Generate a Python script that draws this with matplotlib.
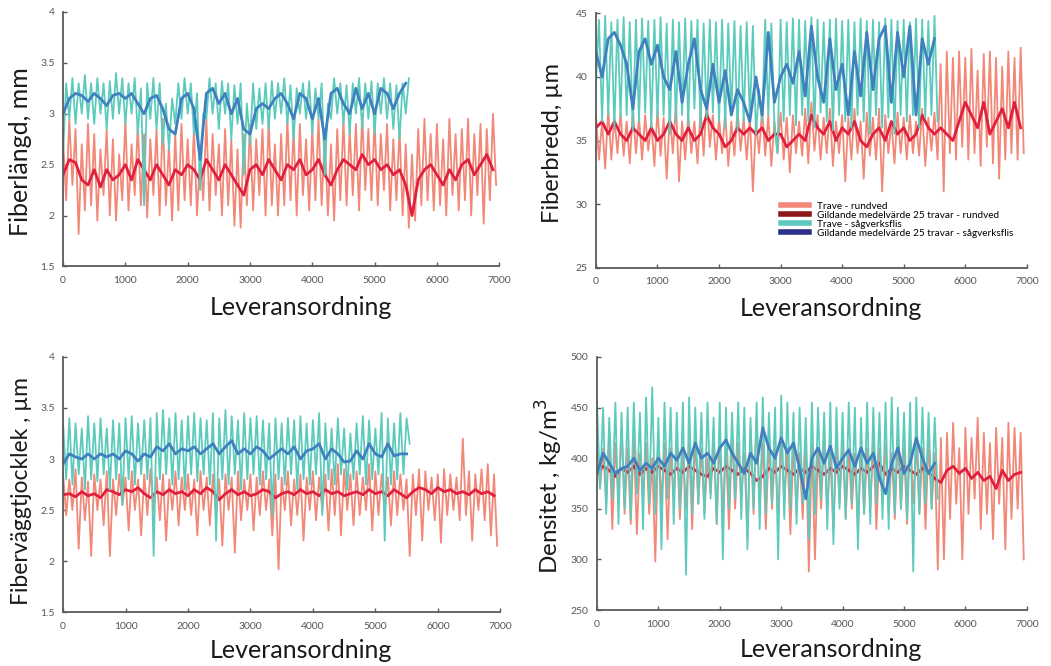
import numpy as np
import matplotlib
matplotlib.use("Agg")
import matplotlib.pyplot as plt
from matplotlib.lines import Line2D

# ---------------- data ----------------
# delivery order positions (every 50th / 100th delivery)
lev_rund_raw = np.arange(0, 7000, 50)      # 140 points, rundved raw
lev_sag_raw = np.arange(0, 5600, 50)       # 112 points, sågverksflis raw
lev_rund_ma = np.arange(0, 7000, 100)      # 70 points
lev_sag_ma = np.arange(0, 5600, 100)       # 56 points

# ---- Fiberlängd, mm ----
langd_rund_raw = [
    2.75, 2.15, 2.95, 2.30, 2.85, 1.82, 2.70, 2.05, 2.90, 2.10,
    2.80, 1.95, 2.65, 2.20, 2.85, 2.00, 2.75, 1.95, 2.60, 2.15,
    2.95, 2.05, 2.70, 2.20, 2.90, 2.10, 2.80, 1.98, 2.75, 2.20,
    2.85, 2.00, 2.95, 2.10, 2.70, 1.95, 2.80, 2.05, 2.90, 2.15,
    2.75, 2.10, 2.85, 2.00, 2.60, 2.15, 2.95, 2.05, 2.80, 2.20,
    2.70, 2.00, 2.85, 2.10, 2.75, 1.90, 2.65, 1.88, 2.80, 2.10,
    2.90, 2.05, 2.75, 2.20, 2.85, 2.00, 2.95, 2.10, 2.70, 2.00,
    2.80, 2.10, 2.95, 2.15, 2.85, 2.00, 2.90, 2.20, 2.75, 2.05,
    2.85, 2.15, 2.95, 2.10, 2.80, 2.00, 2.70, 1.95, 2.85, 2.15,
    2.95, 2.10, 2.85, 2.20, 2.90, 2.05, 3.00, 2.25, 2.85, 2.15,
    2.95, 2.10, 2.80, 2.25, 2.90, 2.05, 2.75, 2.15, 2.85, 2.00,
    2.70, 1.88, 2.60, 1.95, 2.85, 2.10, 2.95, 2.15, 2.80, 2.05,
    2.90, 2.10, 2.75, 2.00, 2.95, 2.20, 2.80, 2.05, 2.85, 2.15,
    2.95, 2.00, 2.80, 2.20, 2.90, 1.92, 2.85, 2.15, 3.00, 2.30]
langd_rund_ma = [
    2.40, 2.55, 2.52, 2.35, 2.30, 2.45, 2.28, 2.45, 2.35, 2.40,
    2.50, 2.35, 2.55, 2.45, 2.35, 2.50, 2.40, 2.30, 2.45, 2.40,
    2.50, 2.45, 2.35, 2.55, 2.45, 2.35, 2.50, 2.40, 2.30, 2.20,
    2.45, 2.50, 2.40, 2.55, 2.45, 2.35, 2.50, 2.45, 2.55, 2.40,
    2.45, 2.55, 2.40, 2.30, 2.45, 2.55, 2.50, 2.45, 2.60, 2.50,
    2.55, 2.45, 2.50, 2.40, 2.45, 2.30, 2.00, 2.35, 2.45, 2.50,
    2.40, 2.30, 2.45, 2.35, 2.50, 2.55, 2.40, 2.50, 2.60, 2.45]
langd_sag_raw = [
    2.60, 3.30, 2.95, 3.35, 2.90, 3.30, 3.00, 3.38, 2.95, 3.30,
    2.90, 3.35, 3.00, 3.30, 2.85, 3.32, 2.95, 3.40, 3.00, 3.35,
    2.90, 3.30, 3.00, 3.35, 2.80, 3.25, 2.10, 3.30, 2.95, 3.35,
    2.85, 3.30, 2.70, 3.10, 2.65, 3.15, 2.90, 3.30, 2.95, 3.35,
    3.00, 3.30, 2.80, 3.20, 2.25, 3.00, 2.95, 3.35, 3.00, 3.30,
    2.85, 3.32, 3.00, 3.30, 2.75, 3.28, 2.90, 3.30, 2.40, 3.10,
    2.70, 3.30, 2.85, 3.25, 2.90, 3.30, 2.85, 3.32, 2.95, 3.30,
    3.00, 3.35, 2.90, 3.28, 2.75, 3.25, 3.00, 3.30, 2.95, 3.32,
    2.80, 3.25, 2.95, 3.30, 2.40, 3.10, 2.95, 3.35, 3.00, 3.30,
    2.90, 3.28, 2.80, 3.30, 3.00, 3.35, 2.85, 3.30, 2.95, 3.32,
    2.80, 3.30, 3.00, 3.35, 2.95, 3.30, 2.85, 3.28, 2.75, 3.30,
    3.00, 3.35]
langd_sag_ma = [
    3.00, 3.15, 3.20, 3.18, 3.12, 3.20, 3.15, 3.08, 3.18, 3.20,
    3.15, 3.20, 3.10, 3.00, 3.15, 3.18, 3.05, 2.85, 2.80, 3.15,
    3.20, 3.05, 2.55, 3.20, 3.25, 3.10, 3.20, 3.00, 3.15, 2.85,
    2.80, 3.05, 3.10, 3.05, 3.15, 3.20, 3.10, 2.95, 3.20, 3.15,
    2.95, 3.15, 2.75, 3.20, 3.25, 3.10, 3.00, 3.25, 3.05, 3.20,
    3.00, 3.25, 3.20, 3.05, 3.20, 3.30]

# ---- Fiberbredd, µm ----
bredd_rund_raw = [
    37.0, 33.5, 36.5, 32.8, 37.5, 33.5, 36.8, 34.0, 37.2, 33.8,
    36.5, 33.2, 37.5, 34.0, 36.8, 33.5, 37.0, 34.2, 36.5, 33.0,
    37.5, 33.8, 36.8, 32.0, 37.2, 34.0, 38.0, 31.8, 36.5, 33.5,
    37.0, 34.0, 36.5, 33.2, 37.5, 33.8, 38.5, 34.5, 37.0, 33.5,
    36.8, 34.0, 37.2, 33.0, 36.5, 33.8, 37.5, 34.2, 36.8, 33.5,
    37.0, 31.0, 36.5, 34.0, 37.5, 33.8, 37.0, 33.0, 36.5, 34.0,
    37.2, 33.5, 36.8, 32.5, 37.0, 34.0, 36.5, 33.8, 37.5, 33.2,
    38.0, 34.2, 37.0, 33.5, 36.8, 34.0, 37.5, 33.0, 36.5, 34.0,
    37.0, 31.8, 36.8, 33.5, 37.5, 34.0, 36.5, 32.0, 37.2, 33.8,
    36.8, 33.5, 37.5, 31.0, 37.0, 34.0, 36.5, 33.2, 37.2, 34.0,
    36.8, 33.5, 37.0, 34.0, 36.5, 33.8, 37.5, 33.0, 36.8, 34.2,
    37.2, 33.5, 41.0, 31.0, 42.0, 34.0, 41.5, 33.5, 42.0, 34.5,
    41.5, 33.5, 42.2, 34.0, 40.5, 33.0, 41.8, 34.5, 42.0, 33.2,
    41.5, 32.0, 40.8, 33.5, 42.0, 34.0, 41.5, 33.5, 42.3, 34.0]
bredd_rund_ma = [
    36.0, 36.5, 35.5, 36.5, 35.5, 35.0, 36.0, 35.5, 35.0, 36.0,
    35.0, 35.5, 36.5, 35.5, 35.0, 36.0, 35.0, 35.5, 37.0, 36.0,
    35.5, 34.5, 35.0, 36.0, 35.5, 36.0, 35.5, 36.0, 35.0, 35.5,
    35.5, 34.5, 35.0, 35.5, 35.0, 37.0, 36.0, 35.5, 36.5, 35.0,
    36.0, 35.5, 36.5, 35.0, 34.5, 35.5, 36.0, 35.0, 36.5, 35.5,
    36.0, 35.0, 35.5, 37.0, 36.0, 35.5, 36.0, 35.5, 35.0, 36.5,
    38.0, 37.0, 36.0, 38.0, 35.5, 36.5, 37.5, 36.0, 38.0, 36.0]
bredd_sag_raw = [
    39.5, 44.5, 36.5, 44.8, 37.0, 44.3, 36.0, 44.5, 36.8, 44.7,
    37.0, 44.3, 35.8, 44.5, 36.5, 44.6, 37.2, 44.4, 36.0, 44.5,
    36.8, 44.7, 37.0, 44.2, 35.5, 44.5, 36.5, 44.3, 37.0, 44.6,
    36.2, 44.4, 37.5, 44.5, 36.0, 44.2, 36.8, 44.5, 37.2, 44.3,
    36.5, 44.5, 36.0, 44.2, 37.0, 44.4, 35.8, 44.0, 36.5, 44.3,
    36.8, 44.0, 35.5, 39.0, 36.5, 44.5, 37.0, 44.2, 36.0, 34.0,
    44.5, 36.5, 44.3, 37.0, 44.6, 36.2, 44.5, 37.0, 44.4, 36.5,
    44.7, 36.0, 44.5, 37.2, 44.3, 36.5, 44.5, 35.8, 44.6, 37.0,
    44.4, 36.5, 44.5, 36.0, 44.3, 37.0, 44.6, 36.5, 44.4, 35.5,
    44.5, 37.0, 44.3, 36.0, 44.6, 36.8, 44.5, 35.5, 44.4, 37.0,
    44.5, 36.5, 44.3, 37.0, 44.6, 36.0, 44.5, 36.8, 44.4, 37.0,
    44.8, 36.5]
bredd_sag_ma = [
    42.0, 40.0, 43.0, 43.5, 42.5, 41.0, 37.5, 42.0, 43.0, 41.0,
    42.5, 40.0, 39.0, 42.0, 38.0, 41.0, 43.0, 39.0, 37.5, 41.0,
    38.0, 40.5, 37.0, 39.0, 38.0, 36.5, 40.0, 37.0, 43.5, 38.0,
    40.0, 41.0, 39.5, 42.0, 38.5, 44.0, 40.0, 38.0, 43.0, 39.0,
    41.0, 37.0, 42.0, 38.5, 43.5, 39.0, 43.0, 44.0, 38.0, 43.5,
    40.0, 44.0, 37.0, 43.0, 41.0, 43.0]

# ---- Fiberväggtjocklek, µm ----
vagg_rund_raw = [
    2.85, 2.45, 2.80, 2.50, 2.90, 2.12, 2.82, 2.40, 2.78, 2.05,
    2.85, 2.50, 2.80, 2.35, 2.88, 2.05, 2.80, 2.45, 2.85, 2.55,
    2.82, 2.30, 2.88, 2.50, 2.80, 2.25, 2.85, 2.45, 2.90, 2.50,
    2.82, 2.40, 2.85, 2.20, 2.80, 2.50, 2.88, 2.35, 2.82, 2.50,
    2.85, 2.45, 2.80, 2.25, 2.88, 2.50, 2.82, 2.35, 2.85, 2.45,
    2.80, 2.15, 2.85, 2.50, 2.82, 2.08, 2.88, 2.40, 2.80, 2.50,
    2.85, 2.30, 2.82, 2.45, 2.88, 2.50, 2.80, 2.25, 2.85, 1.92,
    2.82, 2.50, 2.88, 2.35, 2.80, 2.45, 2.85, 2.20, 2.82, 2.50,
    2.88, 2.40, 2.82, 2.50, 2.85, 2.30, 2.90, 2.45, 2.95, 2.25,
    2.90, 2.50, 2.85, 2.35, 2.88, 2.45, 2.82, 2.50, 2.95, 2.30,
    2.88, 2.45, 2.85, 2.50, 2.82, 2.35, 2.88, 2.45, 2.85, 2.50,
    2.80, 2.05, 2.85, 2.45, 2.90, 2.20, 2.88, 2.50, 2.82, 2.40,
    2.85, 2.18, 2.90, 2.45, 2.85, 2.50, 2.82, 2.40, 3.20, 2.45,
    2.88, 2.20, 2.85, 2.50, 2.90, 2.40, 2.95, 2.25, 2.85, 2.15]
vagg_rund_ma = [
    2.65, 2.66, 2.63, 2.68, 2.64, 2.66, 2.62, 2.70, 2.68, 2.65,
    2.70, 2.68, 2.72, 2.66, 2.62, 2.68, 2.65, 2.70, 2.66, 2.68,
    2.64, 2.70, 2.66, 2.72, 2.68, 2.60, 2.66, 2.70, 2.65, 2.68,
    2.64, 2.66, 2.70, 2.68, 2.62, 2.66, 2.68, 2.65, 2.70, 2.66,
    2.68, 2.64, 2.70, 2.66, 2.68, 2.64, 2.66, 2.68, 2.65, 2.70,
    2.66, 2.68, 2.64, 2.70, 2.66, 2.62, 2.68, 2.72, 2.70, 2.66,
    2.72, 2.68, 2.70, 2.66, 2.68, 2.65, 2.70, 2.66, 2.68, 2.64]
vagg_sag_raw = [
    3.35, 2.80, 3.40, 2.75, 3.35, 2.85, 3.30, 2.70, 3.42, 2.80,
    3.35, 2.78, 3.40, 2.85, 3.30, 2.70, 3.38, 2.80, 3.35, 2.55,
    3.40, 2.80, 3.42, 2.75, 3.35, 2.85, 3.38, 2.80, 3.40, 2.05,
    3.45, 2.80, 3.48, 2.85, 3.40, 2.75, 3.45, 2.80, 3.38, 2.70,
    3.42, 2.85, 3.45, 2.78, 3.40, 2.85, 3.38, 2.75, 3.45, 2.20,
    3.40, 2.80, 3.48, 2.75, 3.42, 2.85, 3.38, 2.70, 3.45, 2.80,
    3.40, 2.85, 3.42, 2.75, 3.38, 2.80, 3.35, 2.45, 3.40, 2.80,
    3.35, 2.75, 3.40, 2.85, 3.38, 2.70, 3.42, 2.80, 3.35, 2.75,
    3.38, 2.85, 3.45, 2.45, 3.35, 2.80, 3.30, 2.75, 3.40, 2.85,
    3.30, 2.70, 3.25, 2.80, 3.35, 2.85, 3.42, 2.75, 3.38, 2.80,
    3.30, 2.85, 3.45, 2.20, 3.40, 2.75, 3.35, 2.80, 3.45, 2.85,
    3.40, 3.15]
vagg_sag_ma = [
    2.95, 3.05, 3.02, 3.00, 3.05, 3.00, 3.05, 3.02, 3.05, 3.00,
    3.08, 3.05, 2.98, 3.05, 3.02, 3.12, 3.08, 3.15, 3.05, 3.10,
    3.08, 3.12, 3.05, 3.10, 3.15, 3.05, 3.12, 3.18, 3.05, 3.10,
    3.05, 3.12, 3.08, 3.00, 3.05, 3.10, 3.05, 3.12, 3.00, 3.08,
    3.10, 3.15, 3.00, 3.10, 3.05, 2.97, 2.98, 3.08, 3.00, 3.15,
    3.05, 3.02, 3.15, 3.03, 3.05, 3.05]

# ---- Densitet, kg/m3 ----
dens_rund_raw = [
    420, 370, 410, 355, 425, 330, 415, 360, 430, 345,
    410, 335, 420, 325, 405, 365, 415, 345, 400, 298,
    425, 355, 415, 320, 410, 360, 420, 340, 405, 350,
    415, 330, 420, 355, 410, 345, 400, 365, 415, 335,
    420, 345, 410, 330, 425, 350, 415, 360, 405, 320,
    430, 345, 440, 355, 415, 330, 420, 350, 410, 340,
    420, 355, 410, 325, 415, 345, 405, 340, 420, 288,
    415, 300, 410, 350, 425, 345, 405, 330, 415, 355,
    420, 340, 410, 350, 405, 325, 415, 345, 410, 350,
    420, 330, 410, 355, 415, 345, 405, 340, 420, 350,
    410, 335, 425, 355, 415, 345, 410, 330, 420, 350,
    405, 290, 420, 300, 425, 340, 435, 355, 410, 300,
    430, 345, 420, 360, 440, 330, 425, 345, 415, 320,
    430, 355, 420, 310, 435, 340, 430, 350, 425, 300]
dens_rund_ma = [
    385, 392, 388, 382, 390, 386, 392, 384, 390, 386,
    392, 388, 384, 390, 386, 392, 388, 384, 382, 390,
    386, 392, 388, 384, 390, 385, 378, 382, 390, 386,
    392, 388, 384, 390, 386, 392, 388, 384, 390, 386,
    392, 388, 384, 390, 386, 392, 395, 384, 390, 386,
    392, 388, 384, 390, 386, 380, 376, 388, 392, 385,
    390, 380, 386, 378, 382, 370, 388, 378, 384, 386]
dens_sag_raw = [
    455, 370, 450, 345, 440, 360, 455, 335, 445, 350,
    450, 340, 455, 365, 445, 330, 460, 355, 470, 345,
    440, 310, 455, 360, 450, 335, 445, 350, 455, 285,
    460, 345, 450, 355, 445, 340, 455, 360, 440, 335,
    455, 300, 450, 350, 445, 360, 455, 340, 450, 310,
    440, 350, 455, 330, 460, 345, 445, 355, 450, 300,
    462, 340, 455, 350, 445, 335, 450, 355, 440, 320,
    455, 345, 450, 360, 445, 330, 455, 315, 450, 350,
    445, 340, 455, 355, 450, 310, 440, 345, 455, 335,
    450, 355, 445, 340, 455, 330, 460, 345, 450, 350,
    445, 340, 455, 288, 460, 345, 450, 355, 445, 350,
    440, 360]
dens_sag_ma = [
    385, 405, 395, 385, 390, 392, 400, 388, 395, 390,
    400, 392, 405, 398, 410, 395, 415, 400, 405, 395,
    410, 418, 405, 395, 385, 405, 395, 430, 410, 400,
    420, 405, 415, 390, 360, 400, 410, 395, 412, 390,
    400, 408, 392, 410, 395, 405, 380, 365, 395, 410,
    385, 395, 420, 400, 385, 395]

panels = [
    ("Fiberlängd, mm", (1.5, 4.0), [1.5, 2, 2.5, 3, 3.5, 4], ["1.5", "2", "2.5", "3", "3.5", "4"],
     langd_rund_raw, langd_rund_ma, langd_sag_raw, langd_sag_ma),
    ("Fiberbredd, µm", (25, 45), [25, 30, 35, 40, 45], ["25", "30", "35", "40", "45"],
     bredd_rund_raw, bredd_rund_ma, bredd_sag_raw, bredd_sag_ma),
    ("Fiberväggtjocklek , µm", (1.5, 4.0), [1.5, 2, 2.5, 3, 3.5, 4], ["1.5", "2", "2.5", "3", "3.5", "4"],
     vagg_rund_raw, vagg_rund_ma, vagg_sag_raw, vagg_sag_ma),
    ("Densitet , kg/m$^3$", (250, 500), [250, 300, 350, 400, 450, 500], ["250", "300", "350", "400", "450", "500"],
     dens_rund_raw, dens_rund_ma, dens_sag_raw, dens_sag_ma),
]
x_ticks = [0, 1000, 2000, 3000, 4000, 5000, 6000, 7000]
x_label = "Leveransordning"
legend_labels = ["Trave - rundved", "Gildande medelvärde 25 travar - rundved",
                 "Trave - sågverksflis", "Gildande medelvärde 25 travar - sågverksflis"]

# ---------------- styling ----------------
c_rund_raw = "#f18878"
c_rund_ma = "#e11f3e"
c_sag_raw = "#5ccbbd"
c_sag_ma = "#3f80bf"
c_leg = [c_rund_raw, "#8a1a1a", c_sag_raw, "#2c3088"]
axis_col = "#5a5a5a"

plt.rcParams["font.family"] = ["Lato", "DejaVu Sans"]

fig = plt.figure(figsize=(10.51, 6.66), dpi=100)
boxes = [
    (0.060, 0.600, 0.415, 0.382),
    (0.567, 0.598, 0.410, 0.382),
    (0.060, 0.081, 0.416, 0.383),
    (0.568, 0.084, 0.409, 0.380),
]
ylab_x = [-0.072, -0.077, -0.071, -0.074]
ylab_y = [0.45, 0.49, 0.476, 0.49]
ylab_fs = [18, 17, 16.5, 17.4]
xlab_y = [-0.115, -0.115, -0.105, -0.11]

for i, (ylabel, ylim, yt, ytl, rr, rm, sr, sm) in enumerate(panels):
    ax = fig.add_axes(boxes[i])
    ax.plot(lev_rund_raw, rr, color=c_rund_raw, lw=1.3)
    ax.plot(lev_rund_ma, rm, color=c_rund_ma, lw=2.0)
    ax.plot(lev_sag_raw, sr, color=c_sag_raw, lw=1.3)
    ax.plot(lev_sag_ma, sm, color=c_sag_ma, lw=2.0)
    ax.set_xlim(0, 7000)
    ax.set_ylim(*ylim)
    ax.set_xticks(x_ticks)
    ax.set_xticklabels([str(t) for t in x_ticks])
    ax.set_yticks(yt)
    ax.set_yticklabels(ytl)
    for s in ["top", "right"]:
        ax.spines[s].set_visible(False)
    for s in ["left", "bottom"]:
        ax.spines[s].set_color(axis_col)
        ax.spines[s].set_linewidth(1.3)
    ax.tick_params(direction="in", length=3, width=1, color=axis_col,
                   labelsize=7.5, labelcolor="#555555")
    ax.tick_params(axis="x", pad=7)
    ax.tick_params(axis="y", pad=6)
    ax.set_ylabel(ylabel, fontsize=ylab_fs[i], color="#1a1a1a")
    ax.yaxis.set_label_coords(ylab_x[i], ylab_y[i])
    ax.set_xlabel(x_label, fontsize=18, color="#1a1a1a")
    ax.xaxis.set_label_coords(0.545, xlab_y[i])
    if i == 1:
        handles = [Line2D([0], [0], color=c, lw=4) for c in c_leg]
        ax.legend(handles, legend_labels, loc="upper left",
                  bbox_to_anchor=(0.42, 0.275), frameon=False, fontsize=7.2,
                  handlelength=2.8, handletextpad=0.8, labelspacing=0.0,
                  borderaxespad=0)

fig.savefig("out.png", dpi=100)
